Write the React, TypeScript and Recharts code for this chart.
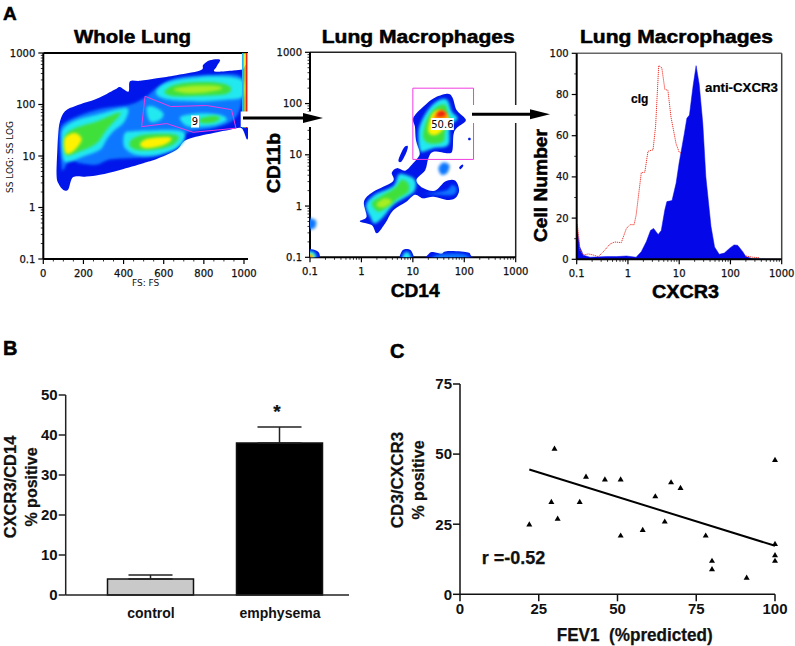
import {
  Area,
  Bar,
  BarChart,
  Cell,
  ComposedChart,
  ErrorBar,
  Line,
  ReferenceLine,
  Scatter,
  ScatterChart,
  XAxis,
  YAxis,
} from "recharts";

const W = 795;
const H = 646;
const SANS = "'Liberation Sans', Arial, sans-serif";
const FLOW_FONT = "'DejaVu Sans', sans-serif";

type Pt = [number, number];

// density levels, blue (sparse) to red (dense)
const levels = ["#0616ea", "#0a78ff", "#22e8f0", "#5cf2a0", "#3fe03a", "#a8ee20", "#fff200", "#ff8a00", "#ee1c10"];

// Whole lung: FS (linear), log10 SS
const wlOuter: Pt[] = [[66, 0.635], [70, 1.12], [75, 1.445], [83, 1.67], [108, 1.87], [166, 1.98], [266, 2.11], [357, 2.29], [382, 2.34], [424, 2.25], [432, 2.45], [482, 2.46], [565, 2.51], [648, 2.56], [781, 2.66], [797, 2.77], [830, 2.86], [880, 2.87], [864, 2.74], [855, 2.64], [947, 2.66], [993, 2.68], [1021, 2.71], [1021, 1.38], [988, 1.54], [930, 1.51], [847, 1.445], [714, 1.315], [664, 1.12], [565, 0.94], [498, 0.86], [382, 0.73], [282, 0.635], [216, 0.6], [149, 0.59], [125, 0.356], [100, 0.34], [75, 0.47]];
const wlMid: Pt[] = [[91, 0.8], [83, 1.445], [116, 1.67], [266, 1.9], [432, 2.0], [515, 2.16], [565, 2.32], [664, 2.51], [847, 2.58], [988, 2.53], [988, 2.03], [947, 1.7], [847, 1.54], [714, 1.445], [689, 1.25], [565, 1.0], [448, 0.96], [332, 0.93], [266, 0.83], [183, 0.86], [133, 0.93], [100, 0.73]];
const wlCyanLeft: Pt[] = [[100, 0.93], [91, 1.32], [100, 1.54], [166, 1.7], [266, 1.8], [399, 1.93], [424, 1.87], [399, 1.64], [349, 1.48], [316, 1.32], [282, 1.12], [199, 0.99], [133, 0.89]];
const wlCyanLow: Pt[] = [[399, 1.25], [407, 1.445], [448, 1.48], [565, 1.5], [681, 1.49], [706, 1.38], [664, 1.15], [565, 1.02], [465, 1.02], [415, 1.12]];
const wlCyanTop: Pt[] = [[565, 2.19], [581, 2.35], [664, 2.48], [847, 2.55], [988, 2.48], [997, 2.16], [914, 2.09], [781, 2.06], [631, 2.09]];
const wlCyanGateA: Pt[] = [[515, 1.93], [548, 1.96], [598, 1.83], [581, 1.7], [532, 1.67]];
const wlCyanGateB: Pt[] = [[689, 1.77], [781, 1.83], [880, 1.8], [914, 1.7], [847, 1.59], [731, 1.57], [689, 1.67]];
const wlGreenLeft: Pt[] = [[108, 1.06], [108, 1.38], [158, 1.54], [266, 1.67], [365, 1.83], [382, 1.8], [316, 1.51], [266, 1.25], [183, 1.09], [133, 1.02]];
const wlGreenLow: Pt[] = [[432, 1.19], [440, 1.32], [498, 1.41], [615, 1.43], [673, 1.38], [656, 1.25], [598, 1.15], [482, 1.11]];
const wlGreenTop: Pt[] = [[606, 2.22], [631, 2.34], [714, 2.42], [847, 2.43], [930, 2.35], [914, 2.21], [781, 2.17], [664, 2.16]];
const wlGreenGate: Pt[] = [[781, 1.72], [847, 1.78], [880, 1.74], [847, 1.65], [789, 1.64]];
const wlLimeTop: Pt[] = [[648, 2.29], [731, 2.36], [864, 2.36], [888, 2.3], [814, 2.24], [714, 2.22]];
const wlYellowLeft: Pt[] = [[108, 1.09], [108, 1.35], [158, 1.445], [191, 1.32], [158, 1.12], [125, 1.04]];
const wlYellowLow: Pt[] = [[482, 1.22], [515, 1.33], [615, 1.37], [639, 1.32], [598, 1.21], [515, 1.15]];
const wlGate: Pt[] = [[507, 2.16], [634, 1.96], [814, 1.98], [938, 1.9], [960, 1.54], [747, 1.46], [615, 1.63], [490, 1.57]];
// off-scale events piled on the right edge of the FS axis
const wlStripeEdges = [990, 996, 1002, 1009, 1015, 1021];
const wlStripeColors = ["#22b4ee", "#3fe03a", "#fff200", "#ee2010", "#ffb000"];

const wlContours: [Pt[], number][] = [
  [wlOuter, 0], [wlMid, 1],
  [wlCyanLeft, 2], [wlCyanLow, 2], [wlCyanTop, 2], [wlCyanGateA, 2], [wlCyanGateB, 2],
  [wlGreenLeft, 4], [wlGreenLow, 4], [wlGreenTop, 4], [wlGreenGate, 4],
  [wlLimeTop, 5], [wlYellowLeft, 6], [wlYellowLow, 6],
];

// Macrophage gate: log10 CD14, log10 CD11b
const mpOuter: Pt[] = [[-0.03, -0.3], [0.1, -0.21], [0.05, 0.09], [0.23, 0.28], [0.61, 0.48], [0.59, 0.65], [0.69, 0.74], [0.85, 0.69], [1.0, 0.83], [1.11, 0.96], [1.13, 1.06], [1.06, 1.29], [1.04, 1.55], [1.0, 1.69], [1.07, 1.81], [1.24, 1.97], [1.4, 2.1], [1.66, 2.19], [1.77, 2.12], [1.85, 1.875], [2.0, 1.73], [2.02, 1.65], [1.85, 1.52], [1.79, 1.39], [1.77, 1.09], [1.69, 1.03], [1.4, 1.06], [1.3, 0.93], [1.24, 0.7], [1.07, 0.51], [1.2, 0.35], [1.43, 0.3], [1.63, 0.48], [1.82, 0.5], [1.9, 0.31], [1.82, 0.15], [1.66, 0.12], [1.4, 0.18], [1.2, 0.15], [1.04, 0.22], [0.88, 0.09], [0.62, -0.08], [0.46, -0.34], [0.3, -0.53], [0.2, -0.37]];
const mpIsleA: Pt[] = [[0.72, 0.9], [0.82, 1.13], [0.9, 1.17], [0.88, 1.06], [0.78, 0.87]];
const mpIsleB: Pt[] = [[1.5, 0.74], [1.59, 0.85], [1.71, 0.8], [1.67, 0.65], [1.56, 0.61]];
const mpSpeckA: Pt[] = [[1.9, 0.75], [1.96, 0.81], [1.98, 0.78], [1.93, 0.72]];
const mpSpeckB: Pt[] = [[2.08, 1.33], [2.12, 1.33], [2.12, 1.29], [2.08, 1.29]];
const mpEdge: Pt[] = [[-1.06, -0.25], [-0.9, -0.27], [-0.88, -0.35], [-0.92, -0.44], [-1.06, -0.44]];
const mpCorner0: Pt[] = [[-1.06, -0.86], [-0.94, -0.85], [-0.82, -0.92], [-0.84, -1.06], [-1.06, -1.06]];
const mpCorner2: Pt[] = [[-1.03, -0.89], [-0.94, -0.89], [-0.88, -0.95], [-0.9, -1.05], [-1.03, -1.05]];
const mpCorner6: Pt[] = [[-1.03, -0.94], [-0.96, -0.94], [-0.93, -1.0], [-0.95, -1.05], [-1.03, -1.05]];
const mpCorner8: Pt[] = [[-1.03, -0.98], [-0.98, -0.98], [-0.97, -1.05], [-1.03, -1.05]];
const mpFloorA: Pt[] = [[0.75, -1.08], [0.78, -0.89], [0.88, -0.84], [0.98, -0.89], [1.01, -1.08]];
const mpFloorAIn: Pt[] = [[0.8, -1.05], [0.82, -0.93], [0.88, -0.89], [0.94, -0.93], [0.96, -1.05]];
const mpFloorB: Pt[] = [[1.3, -1.08], [1.33, -0.91], [1.46, -0.91], [1.56, -0.93], [1.66, -0.88], [2.05, -0.9], [2.12, -0.95], [2.12, -1.08]];
const mpFloorBIn: Pt[] = [[1.4, -1.05], [1.45, -0.96], [1.66, -0.93], [2.0, -0.94], [2.08, -1.05]];
const mpLowRight: Pt[] = [[1.14, 0.25], [1.33, 0.25], [1.66, 0.31], [1.76, 0.41], [1.85, 0.35], [1.79, 0.22], [1.46, 0.22]];
const mpLowCyan: Pt[] = [[0.09, 0.02], [0.26, 0.22], [0.62, 0.39], [0.72, 0.61], [0.85, 0.61], [1.04, 0.51], [1.04, 0.31], [0.88, 0.18], [0.62, 0.02], [0.43, -0.21], [0.26, -0.34], [0.17, -0.21]];
const mpLowGreen: Pt[] = [[0.2, 0.05], [0.36, 0.18], [0.65, 0.35], [0.78, 0.51], [0.91, 0.44], [0.91, 0.28], [0.72, 0.15], [0.52, -0.01], [0.33, -0.11]];
const mpLowYellow: Pt[] = [[0.3, 0.05], [0.46, 0.15], [0.59, 0.09], [0.46, -0.02], [0.33, -0.02]];
const mpUpCyan: Pt[] = [[1.11, 1.29], [1.13, 1.55], [1.27, 1.84], [1.46, 2.04], [1.66, 2.08], [1.76, 1.84], [1.87, 1.71], [1.72, 1.55], [1.69, 1.19], [1.4, 1.13], [1.2, 1.06], [1.14, 1.09]];
const mpUpGreen: Pt[] = [[1.2, 1.35], [1.27, 1.68], [1.43, 1.91], [1.63, 1.97], [1.69, 1.74], [1.76, 1.68], [1.63, 1.48], [1.59, 1.26], [1.33, 1.22]];
const mpUpYellow: Pt[] = [[1.3, 1.45], [1.37, 1.78], [1.53, 1.87], [1.69, 1.74], [1.63, 1.55], [1.46, 1.39]];
const mpUpOrange: Pt[] = [[1.4, 1.74], [1.53, 1.87], [1.66, 1.78], [1.66, 1.71], [1.46, 1.69]];
const mpUpRed: Pt[] = [[1.46, 1.78], [1.56, 1.86], [1.65, 1.79], [1.53, 1.74]];
const mpGate: Pt[] = [[1.0, 0.91], [2.18, 0.91], [2.18, 2.3], [1.0, 2.3]];

const mpContours: [Pt[], number][] = [
  [mpOuter, 0], [mpIsleA, 0], [mpIsleB, 1], [mpSpeckA, 0], [mpSpeckB, 0], [mpEdge, 1],
  [mpCorner0, 0], [mpCorner2, 2], [mpCorner6, 6], [mpCorner8, 8],
  [mpFloorA, 0], [mpFloorAIn, 2], [mpFloorB, 0], [mpFloorBIn, 1],
  [mpLowRight, 1], [mpLowCyan, 2], [mpLowGreen, 4], [mpLowYellow, 5],
  [mpUpCyan, 2], [mpUpGreen, 4], [mpUpYellow, 6], [mpUpOrange, 7], [mpUpRed, 8],
];

// Histogram, x in log10 CXCR3
const antiX = [-1, -0.97, -0.94, -0.87, -0.74, -0.42, -0.22, -0.03, 0.16, 0.26, 0.36, 0.44, 0.5, 0.59, 0.65, 0.72, 0.76, 0.86, 0.94, 1.0, 1.1, 1.15, 1.2, 1.27, 1.33, 1.39, 1.46, 1.52, 1.62, 1.69, 1.78, 1.88, 1.98, 2.07, 2.14, 2.24, 2.3, 2.43, 2.98];
const antiY = [16, 11, 6, 2, 1, 1.3, 1.3, 1.6, 1, 3.7, 8.6, 14, 15, 12, 14, 24, 28, 28.5, 37, 47, 61, 68.5, 70, 84, 94, 85, 66, 40, 16, 6, 2.4, 3, 5.3, 7, 6.8, 3.7, 1.3, 0.3, 0];
const cigX = [-0.99, -0.96, -0.94, -0.87, -0.77, -0.68, -0.58, -0.48, -0.35, -0.26, -0.13, -0.03, 0.04, 0.12, 0.16, 0.26, 0.33, 0.39, 0.49, 0.54, 0.6, 0.66, 0.72, 0.78, 0.84, 0.94, 1.0, 1.04, 1.5, 2.3, 2.43, 2.56];
const cigY = [17, 11, 4.5, 2.1, 2.6, 2.1, 1.3, 3.7, 7.4, 8.4, 8.1, 15, 16.8, 16.8, 21.5, 42, 42.3, 52.4, 53.2, 64.7, 94, 93, 82.5, 82, 69, 56, 52, 51.5, null, 1.6, 1, 0.8];

// Bars
const groups = ["control", "emphysema"];
const groupMeans = [4, 38];
const groupSem = [1, 4];
const groupFill = ["#c9c9c9", "#000000"];

// FEV1 scatter
const fev1 = [22, 29, 30, 31, 38, 40, 46, 51, 51, 58, 62, 65, 67, 70, 78, 80, 80, 91, 100, 100, 100, 100];
const cd3Cxcr3 = [25, 33, 52, 27, 33, 42, 41, 41, 21, 23, 35, 26, 40, 38, 21, 12, 9, 6, 48, 18, 14, 12];
const fitX = [22, 100];
const fitY = [44.5, 17.3];

// axis ticks
const decades = [-1, 0, 1, 2, 3];
const decadeLabels: Record<number, string> = { [-1]: "0.1", 0: "1", 1: "10", 2: "100", 3: "1000" };
const minorSteps = [0.301, 0.477, 0.602, 0.699, 0.778, 0.845, 0.903, 0.954];
const logTicks = [...decades, ...decades.slice(0, 4).flatMap((d) => minorSteps.map((m) => d + m))];
const fsMajor = [0, 200, 400, 600, 800, 1000];
const fsMinor = [50, 100, 150, 250, 300, 350, 450, 500, 550, 650, 700, 750, 850, 900, 950];
const fsLabels: Record<number, string> = { 0: "0", 200: "200", 400: "400", 600: "600", 800: "800", 1000: "1000" };
const countMajor = [0, 20, 40, 60, 80, 100];
const countLabels: Record<number, string> = { 0: "0", 20: "20", 40: "40", 60: "60", 80: "80", 100: "100" };
const countMinor = [10, 30, 50, 70, 90];

const toXY = (pts: Pt[]) => pts.map(([x, y]) => ({ x, y }));
const zip = (xs: number[], ys: (number | null)[]) => xs.map((x, i) => ({ x, y: ys[i] }));
const box = (l: number, t: number, r: number, b: number, yw: number, xh: number) => ({
  left: l - yw,
  top: t,
  right: W - r,
  bottom: H - b - xh,
});

// closed Catmull-Rom outline through the polygon's vertices
function smoothPath(p: { x: number; y: number }[]) {
  const n = p.length;
  let d = `M${p[0].x} ${p[0].y}`;
  for (let i = 0; i < n; i++) {
    const a = p[(i - 1 + n) % n];
    const b = p[i];
    const c = p[(i + 1) % n];
    const e = p[(i + 2) % n];
    d += `C${b.x + (c.x - a.x) / 6} ${b.y + (c.y - a.y) / 6} ${c.x - (e.x - b.x) / 6} ${c.y - (e.y - b.y) / 6} ${c.x} ${c.y}`;
  }
  return d + "Z";
}

const NoDot = () => null;

const TriangleDot = ({ cx, cy }: any) => (
  <polygon points={`${cx},${cy - 3} ${cx + 3},${cy + 2.2} ${cx - 3},${cy + 2.2}`} fill="#000" />
);

function contourLine(fill: string, blur: string) {
  return (props: any) => <path key="c" d={smoothPath(props.points)} fill={fill} stroke="none" filter={`url(#${blur})`} />;
}

function outlineLine(props: any) {
  const pts = props.points.map((p: any) => `${p.x},${p.y}`).join(" ");
  return <polygon key="g" points={pts} fill="none" stroke="#f03ce0" strokeWidth={1} />;
}

function Contours({ list }: { list: [Pt[], number][] }) {
  return list.map(([pts, lvl], i) => (
    <Scatter
      key={i}
      data={toXY(pts)}
      line={contourLine(levels[lvl], lvl === 0 ? "softEdge" : "softCore")}
      shape={NoDot}
      isAnimationActive={false}
    />
  ));
}

function xTick(labels: Record<number, string>) {
  return ({ x, y, payload }: any) => {
    const label = labels[payload.value];
    return (
      <g>
        <line x1={x} x2={x} y1={y} y2={y + (label ? 5 : 2.5)} stroke="#000" strokeWidth={label ? 1.2 : 0.8} />
        {label && (
          <text x={x} y={y + 18} textAnchor="middle" fontSize={10} fontFamily={FLOW_FONT} fill="#111" stroke="#111" strokeWidth={0.25}>
            {label}
          </text>
        )}
      </g>
    );
  };
}

function yTick(labels: Record<number, string>) {
  return ({ x, y, payload }: any) => {
    const label = labels[payload.value];
    return (
      <g>
        <line x1={x} x2={x - (label ? 5 : 2.5)} y1={y} y2={y} stroke="#000" strokeWidth={label ? 1.2 : 0.8} />
        {label && (
          <text x={x - 8} y={y + 3.5} textAnchor="end" fontSize={10} fontFamily={FLOW_FONT} fill="#111" stroke="#111" strokeWidth={0.25}>
            {label}
          </text>
        )}
      </g>
    );
  };
}

function GateLabel({ cx, cy, payload }: any) {
  const w = payload.text.length > 1 ? 23 : 8;
  return (
    <g>
      <rect x={cx - w / 2} y={cy - 6} width={w} height={12} fill="#fff" />
      <text x={cx} y={cy + 3.5} textAnchor="middle" fontSize={10} fontFamily={FLOW_FONT} fill="#000">
        {payload.text}
      </text>
    </g>
  );
}

const Blurs = () => (
  <defs>
    <filter id="softEdge" x="-5%" y="-5%" width="110%" height="110%">
      <feGaussianBlur stdDeviation="0.6" />
    </filter>
    <filter id="softCore" x="-30%" y="-30%" width="160%" height="160%">
      <feGaussianBlur stdDeviation="1.7" />
    </filter>
  </defs>
);

function WholeLung() {
  return (
    <ScatterChart width={W} height={H} margin={box(43.3, 53, 248, 259, 40, 40)}>
      <Blurs />
      <XAxis type="number" dataKey="x" domain={[0, 1020]} ticks={[...fsMajor, ...fsMinor]} interval={0} allowDataOverflow height={40}
        tick={xTick(fsLabels)} tickLine={false} tickSize={0} tickMargin={0} axisLine={{ stroke: "#000", strokeWidth: 2 }} />
      <YAxis type="number" dataKey="y" domain={[-1, 3]} ticks={logTicks} interval={0} allowDataOverflow width={40}
        tick={yTick(decadeLabels)} tickLine={false} tickSize={0} tickMargin={0} axisLine={{ stroke: "#000", strokeWidth: 2 }} />
      {Contours({ list: wlContours })}
      {wlStripeColors.map((c, i) => (
        <Scatter key={c} data={toXY([[wlStripeEdges[i], 3], [wlStripeEdges[i + 1], 3], [wlStripeEdges[i + 1], 1.55], [wlStripeEdges[i], 1.55]])}
          line={(p: any) => <polygon key="s" points={p.points.map((q: any) => `${q.x},${q.y}`).join(" ")} fill={c} />}
          shape={NoDot} isAnimationActive={false} />
      ))}
      <Scatter data={toXY(wlGate)} line={outlineLine} shape={NoDot} isAnimationActive={false} />
      <Scatter data={[{ x: 756, y: 1.67, text: "9" }]} shape={GateLabel} isAnimationActive={false} />
      <ReferenceLine y={3} stroke="#000" strokeWidth={2} />
    </ScatterChart>
  );
}

function Macrophages() {
  return (
    <ScatterChart width={W} height={H} margin={box(310, 52.3, 515.7, 257.3, 40, 40)}>
      <Blurs />
      <XAxis type="number" dataKey="x" domain={[-1, 3]} ticks={logTicks} interval={0} allowDataOverflow height={40}
        tick={xTick(decadeLabels)} tickLine={false} tickSize={0} tickMargin={0} axisLine={{ stroke: "#000", strokeWidth: 2 }} />
      <YAxis type="number" dataKey="y" domain={[-1, 3]} ticks={logTicks} interval={0} allowDataOverflow width={40}
        tick={yTick(decadeLabels)} tickLine={false} tickSize={0} tickMargin={0} axisLine={{ stroke: "#000", strokeWidth: 2 }} />
      {Contours({ list: mpContours })}
      <Scatter data={toXY(mpGate)} line={outlineLine} shape={NoDot} isAnimationActive={false} />
      <Scatter data={[{ x: 1.574, y: 1.6, text: "50.6" }]} shape={GateLabel} isAnimationActive={false} />
      <ReferenceLine y={3} stroke="#222" strokeWidth={1.5} />
      <ReferenceLine x={3} stroke="#222" strokeWidth={1.5} />
    </ScatterChart>
  );
}

function Histogram() {
  return (
    <ComposedChart width={W} height={H} margin={box(576.7, 53.3, 781.7, 259.3, 40, 40)}>
      <XAxis type="number" dataKey="x" domain={[-1, 3]} ticks={logTicks} interval={0} height={40}
        tick={xTick(decadeLabels)} tickLine={false} tickSize={0} tickMargin={0} axisLine={{ stroke: "#000", strokeWidth: 2 }} />
      <YAxis type="number" domain={[0, 100]} ticks={[...countMajor, ...countMinor]} interval={0} width={40}
        tick={yTick(countLabels)} tickLine={false} tickSize={0} tickMargin={0} axisLine={{ stroke: "#000", strokeWidth: 2 }} />
      <Area data={zip(antiX, antiY)} dataKey="y" type="linear" fill="#0408e8" fillOpacity={1} stroke="#0408e8" strokeWidth={0.5} dot={false} isAnimationActive={false} />
      <Line data={zip(cigX, cigY)} dataKey="y" type="linear" stroke="#f2342c" strokeWidth={1} strokeDasharray="1.2 0.8" dot={false} isAnimationActive={false} />
      <ReferenceLine y={100} stroke="#666" strokeWidth={1.5} />
      <ReferenceLine x={3} stroke="#444" strokeWidth={1.5} />
    </ComposedChart>
  );
}

const panelTick = { fontSize: 15, fontWeight: 700, fontFamily: SANS, fill: "#111" };

function Bars() {
  const rows = groups.map((g, i) => ({ g, mean: groupMeans[i], sem: [0, groupSem[i]] }));
  return (
    <BarChart width={W} height={H} data={rows} margin={box(65.7, 395, 349, 595, 60, 30)}>
      <XAxis dataKey="g" padding={{ left: 20.8, right: 4.5 }} height={30} tickLine={false} tickMargin={7}
        tick={{ ...panelTick, fontSize: 14 }} axisLine={{ stroke: "#222", strokeWidth: 1.5 }} interval={0} />
      <YAxis domain={[0, 50]} ticks={[0, 10, 20, 30, 40, 50]} width={60} tick={panelTick} tickSize={7} tickMargin={1}
        axisLine={{ stroke: "#222", strokeWidth: 1.5 }} tickLine={{ stroke: "#222", strokeWidth: 1.5 }} />
      <Bar dataKey="mean" barSize={86} stroke="#111" strokeWidth={1.5} isAnimationActive={false}>
        {groupFill.map((f) => (
          <Cell key={f} fill={f} />
        ))}
        <ErrorBar dataKey="sem" width={22} stroke="#222" strokeWidth={1.5} />
      </Bar>
    </BarChart>
  );
}

function Fev1Scatter() {
  return (
    <ScatterChart width={W} height={H} margin={box(460, 384, 775, 594.3, 60, 40)}>
      <XAxis type="number" dataKey="x" domain={[0, 100]} ticks={[0, 25, 50, 75, 100]} height={40} tick={panelTick} tickSize={7} tickMargin={2}
        axisLine={{ stroke: "#111", strokeWidth: 1.5 }} tickLine={{ stroke: "#111", strokeWidth: 1.5 }} />
      <YAxis type="number" dataKey="y" domain={[0, 75]} ticks={[0, 25, 50, 75]} width={60} tick={panelTick} tickSize={7} tickMargin={1}
        axisLine={{ stroke: "#111", strokeWidth: 1.5 }} tickLine={{ stroke: "#111", strokeWidth: 1.5 }} />
      <Scatter data={zip(fev1, cd3Cxcr3)} shape={TriangleDot} isAnimationActive={false} />
      <Scatter data={zip(fitX, fitY)} line={{ stroke: "#000", strokeWidth: 2 }} shape={NoDot} isAnimationActive={false} />
    </ScatterChart>
  );
}

function Overlay() {
  const heavy = { fontFamily: SANS, fontWeight: 700, fill: "#000", stroke: "#000", strokeWidth: 0.5 };
  const plain = { fontFamily: SANS, fontWeight: 700, fill: "#111", stroke: "#111", strokeWidth: 0.25 };
  return (
    <svg width={W} height={H} style={{ position: "absolute", left: 0, top: 0 }}>
      <text x={3} y={20} fontSize={19} {...heavy}>A</text>
      <text x={3} y={355} fontSize={20} {...heavy}>B</text>
      <text x={390} y={358} fontSize={20} {...heavy}>C</text>

      <text x={74} y={42.7} fontSize={18} textLength={117} lengthAdjust="spacingAndGlyphs" {...heavy}>Whole Lung</text>
      <text x={321.7} y={43} fontSize={18} textLength={193} lengthAdjust="spacingAndGlyphs" {...heavy}>Lung Macrophages</text>
      <text x={580} y={43} fontSize={18} textLength={193} lengthAdjust="spacingAndGlyphs" {...heavy}>Lung Macrophages</text>

      <text x={145.6} y={286} textAnchor="middle" fontSize={9} fontFamily={FLOW_FONT} fill="#111">FS: FS</text>
      <text transform="translate(13 193) rotate(-90)" fontSize={9} textLength={72} lengthAdjust="spacingAndGlyphs" fontFamily={FLOW_FONT} fill="#111">SS LOG: SS LOG</text>

      <text x={390.7} y={297} fontSize={19} textLength={49} lengthAdjust="spacingAndGlyphs" {...heavy}>CD14</text>
      <text transform="translate(280 193) rotate(-90)" fontSize={19} textLength={60} lengthAdjust="spacingAndGlyphs" {...heavy}>CD11b</text>
      <text x={652} y={298} fontSize={19} textLength={67} lengthAdjust="spacingAndGlyphs" {...heavy}>CXCR3</text>
      <text transform="translate(547 242) rotate(-90)" fontSize={18} textLength={113} lengthAdjust="spacingAndGlyphs" {...heavy}>Cell Number</text>
      <text x={631} y={103} fontSize={12} {...heavy} strokeWidth={0.2}>cIg</text>
      <text x={705} y={92} fontSize={12} textLength={73} lengthAdjust="spacingAndGlyphs" {...heavy} strokeWidth={0.2}>anti-CXCR3</text>

      <rect x={240.7} y={111.5} width={82} height={15.5} fill="#fff" />
      <rect x={471.7} y={105} width={79} height={18} fill="#fff" />
      <line x1={243} x2={305} y1={118} y2={118} stroke="#000" strokeWidth={3} />
      <polygon points="303,113 323,118 303,123" fill="#000" />
      <line x1={472} x2={532} y1={114.3} y2={114.3} stroke="#000" strokeWidth={3} />
      <polygon points="530,109.3 550,114.3 530,119.3" fill="#000" />

      <text transform="translate(16 487) rotate(-90)" textAnchor="middle" fontSize={16.5} {...plain}>CXCR3/CD14</text>
      <text transform="translate(37 487) rotate(-90)" textAnchor="middle" fontSize={16} {...plain}>% positive</text>
      <text x={277} y={418} textAnchor="middle" fontSize={19} {...plain}>*</text>

      <text transform="translate(403 480) rotate(-90)" textAnchor="middle" fontSize={17} {...plain}>CD3/CXCR3</text>
      <text transform="translate(424 480) rotate(-90)" textAnchor="middle" fontSize={16} {...plain}>% positive</text>
      <text x={481.7} y={564} fontSize={18} {...plain}>r =-0.52</text>
      <text x={556.7} y={641} fontSize={18} textLength={156} lengthAdjust="spacingAndGlyphs" {...plain} xmlSpace="preserve">FEV1  (%predicted)</text>
    </svg>
  );
}

const layer = { position: "absolute" as const, left: 0, top: 0 };

export default function App() {
  return (
    <div style={{ position: "absolute", left: 0, top: 0, width: W, height: H, overflow: "hidden", background: "#fff" }}>
      <div style={layer}><WholeLung /></div>
      <div style={layer}><Macrophages /></div>
      <div style={layer}><Histogram /></div>
      <div style={layer}><Bars /></div>
      <div style={layer}><Fev1Scatter /></div>
      <Overlay />
    </div>
  );
}
